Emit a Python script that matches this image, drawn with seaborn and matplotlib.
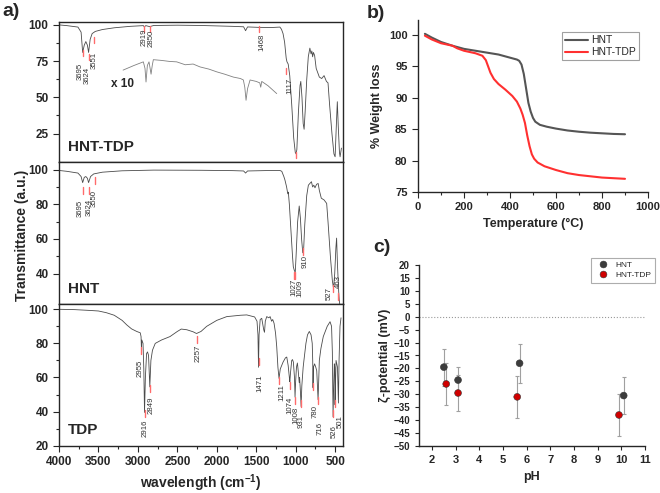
import numpy as np
import matplotlib.pyplot as plt
import pandas as pd
import seaborn as sns

# ---- FTIR: HNT-TDP (top) ----
wn_mod = [4000, 3900, 3760, 3720, 3700, 3680, 3660, 3640, 3625, 3605, 3580, 3540, 3450, 3300, 3100,
          2930, 2919, 2900, 2850, 2800, 2500, 2200, 2000, 1800, 1660, 1635, 1610, 1470, 1300, 1200,
          1180, 1160, 1140, 1120, 1110, 1095, 1075, 1050, 1025, 1005, 995, 985, 965, 945, 935, 920,
          905, 893, 880, 860, 840, 820, 805, 795, 785, 775, 760, 740, 700, 670, 640, 610, 590, 570,
          540, 515, 500, 485, 472, 460, 445, 437, 420]
tr_mod = [100, 99.5, 98.5, 95, 81, 86, 88.5, 86, 81, 90, 94, 95.5, 96.8, 98, 99,
          99.5, 98.6, 99.5, 98.8, 99.6, 99.8, 99.6, 99.3, 99, 98.7, 96, 98.6, 98.3, 98.2, 98.5,
          97, 94, 88, 77, 74.5, 73, 65, 45, 22, 12, 11, 14, 40, 58, 61, 50,
          32, 28, 40, 62, 78, 84, 80, 82, 78, 81, 79, 70, 64, 63, 65, 61, 60, 45,
          25, 11, 9, 30, 47, 30, 12, 9, 15]
# x10 expanded trace
wn_x10 = [3188, 3050, 2931, 2910, 2897, 2880, 2859, 2845, 2833, 2818, 2804, 2700, 2600, 2508, 2400,
          2300, 2212, 2100, 2000, 1900, 1790, 1700, 1663, 1645, 1629, 1610, 1578, 1500, 1455, 1443,
          1430, 1350, 1240]
tr_x10 = [68.8, 72, 74.5, 70, 60.6, 72, 74.5, 70, 66, 72, 76, 75.5, 74.8, 74.5, 72.5,
          73, 71, 69.5, 67.6, 66, 64, 63, 62, 57, 48, 56, 62, 61, 60, 57,
          61, 58, 52.6]
pk_mod = ['3695', '3624', '3551', '2919', '2850', '1468', '1117']
pk_mod_wn = [3695, 3624, 3551, 2919, 2850, 1468, 1117]
pk_mod_mark = [82.7, 80, 91.7, 99.3, 99.3, 99.3, 70.3]
pk_mod_labx = [3727, 3639, 3556, 2922, 2836, 1426, 1071]
pk_mod_laby = [73.5, 71.2, 81.6, 97.7, 96.5, 94.2, 63.2]

# ---- FTIR: HNT (middle) ----
wn_hnt = [4000, 3900, 3760, 3720, 3700, 3680, 3660, 3640, 3625, 3600, 3560, 3450, 3200, 2800, 2200,
          1800, 1660, 1635, 1610, 1300, 1200, 1176, 1150, 1136, 1115, 1100, 1093, 1080, 1060, 1040,
          1030, 1015, 1005, 995, 975, 955, 940, 925, 910, 900, 885, 860, 839, 820, 800, 785, 770,
          755, 735, 715, 700, 675, 640, 607, 590, 560, 535, 520, 505, 490, 481, 470, 455, 448, 438]
tr_hnt = [99.5, 99, 98, 96, 92.5, 95.5, 96, 95, 92.5, 96, 97.5, 98.5, 99.3, 99.7, 99.6,
          99.4, 99.2, 98, 99.2, 99.5, 99.5, 99, 96, 94, 90, 86, 87, 80, 65, 50,
          44, 41.5, 41, 50, 70, 79, 72, 60, 52, 53, 68, 85, 91, 92, 93, 90, 91,
          89.5, 91.5, 92, 88, 83.5, 82.5, 80.5, 70, 50, 36, 31.5, 40, 55, 60.5, 45, 30, 25, 21]
pk_hnt = ['3695', '3624', '3550', '1027', '1009', '910', '527', '463']
pk_hnt_wn = [3695, 3624, 3550, 1027, 1009, 910, 527, 463]
pk_hnt_mark = [89.9, 89.9, 95.7, 41, 41, 54.8, 33.5, 28.9]
pk_hnt_labx = [3734, 3623, 3548, 1020, 945, 874, 576, 458]
pk_hnt_laby = [82.5, 83.4, 88.2, 37.3, 36.4, 50.8, 32.5, 39.3]

# ---- FTIR: TDP (bottom) ----
wn_tdp = [4000, 3800, 3600, 3500, 3400, 3300, 3200, 3140, 3080, 3015, 2970, 2960, 2955, 2950, 2935,
          2925, 2916, 2905, 2890, 2878, 2865, 2849, 2835, 2815, 2780, 2700, 2593, 2500, 2450, 2380,
          2300, 2257, 2200, 2128, 2000, 1874, 1700, 1620, 1520, 1490, 1478, 1471, 1464, 1450, 1430,
          1405, 1395, 1385, 1367, 1340, 1324, 1305, 1291, 1274, 1255, 1240, 1225, 1211, 1195, 1160,
          1130, 1113, 1095, 1080, 1074, 1065, 1050, 1040, 1029, 1015, 1008, 1000, 990, 978, 968,
          955, 950, 940, 931, 922, 905, 894, 870, 850, 827, 805, 790, 784, 780, 775, 760, 745, 733,
          725, 716, 708, 700, 680, 650, 600, 564, 545, 535, 526, 518, 510, 504, 501, 496, 488, 470,
          458, 450, 438, 425]
tr_tdp = [100, 99.8, 99.3, 99, 98, 96.5, 93.5, 90.8, 88.5, 87, 86.2, 84, 77, 82, 80,
          65, 39.5, 60, 74, 75, 73, 54.5, 70, 76, 80, 82, 84, 87, 88.4, 88,
          86.8, 85.8, 87, 90, 93.5, 95.7, 96.5, 96.7, 95.5, 93, 85, 66, 85, 94, 94.7,
          88, 86.5, 93, 95.7, 95, 95.7, 93, 94, 91.8, 86, 78, 66, 59.5, 65, 69,
          71.5, 72, 67, 60, 57.5, 63, 70, 70.5, 69, 60, 48.5, 58, 66, 68.5, 64,
          57, 60, 52, 43, 55, 66, 70.5, 80, 85, 87, 85, 80, 70, 54, 66, 68, 66, 64,
          56, 47, 58, 70, 77, 84, 90, 92.7, 90, 75, 37, 55, 68, 66, 44, 55, 70, 66,
          45, 70, 90, 95]
pk_tdp = ['2955', '2916', '2849', '2257', '1471', '1211', '1074', '1008', '931', '780', '716', '526', '501']
pk_tdp_wn = [2955, 2916, 2849, 2257, 1471, 1211, 1074, 1008, 931, 780, 716, 526, 501]
pk_tdp_mark = [78, 41, 55.6, 84.3, 71.4, 60.3, 57.4, 48.6, 46.8, 56.8, 48.6, 41, 46.8]
pk_tdp_labx = [2967, 2910, 2827, 2237, 1451, 1177, 1070, 998, 925, 756, 690, 505, 436]
pk_tdp_laby = [70.3, 35.1, 48.6, 79.1, 61.5, 55.9, 48.7, 42.9, 37.9, 43.9, 34.1, 32.1, 37.9]

# ---- TGA ----
temp_hnt = [30, 60, 100, 150, 200, 250, 300, 350, 400, 430, 440, 450, 460, 470, 480, 490, 500, 510,
            530, 560, 600, 650, 700, 750, 800, 850, 900]
wl_hnt = [100.2, 99.6, 98.9, 98.3, 97.8, 97.5, 97.2, 96.9, 96.4, 96.1, 95.9, 95.3, 93.8, 91.5, 89.2,
          87.8, 86.8, 86.2, 85.7, 85.4, 85.1, 84.8, 84.6, 84.45, 84.35, 84.25, 84.2]
temp_tdp = [30, 60, 100, 150, 170, 200, 250, 280, 295, 305, 315, 330, 350, 380, 410, 430, 445, 455,
            465, 475, 485, 495, 505, 520, 550, 600, 650, 700, 800, 900]
wl_tdp = [99.9, 99.3, 98.7, 98.3, 97.9, 97.5, 97.1, 96.7, 96.0, 95.0, 94.0, 93.0, 92.2, 91.3, 90.3,
          89.4, 88.3, 87.3, 86.0, 84.0, 82.3, 81.0, 80.3, 79.7, 79.1, 78.5, 78.0, 77.7, 77.3, 77.1]

# ---- zeta potential ----
ph_hnt = [2.5, 3.1, 5.7, 10.1]
zeta_hnt = [-19.5, -24.5, -18.0, -30.5]
err_hnt = [7.2, 5.0, 7.5, 7.3]
ph_tdp = [2.6, 3.1, 5.6, 9.9]
zeta_tdp = [-26.0, -29.5, -31.0, -38.0]
err_tdp = [8.2, 7.0, 8.0, 8.0]

sns.set_style("ticks")
plt.rcParams['font.family'] = ['Liberation Sans', 'DejaVu Sans']
plt.rcParams['mathtext.fontset'] = 'custom'
plt.rcParams['mathtext.rm'] = 'Liberation Sans'
plt.rcParams['mathtext.bf'] = 'Liberation Sans:bold'
plt.rcParams['axes.linewidth'] = 1.0

W, H = 660, 493
fig = plt.figure(figsize=(6.6, 4.93), dpi=100)


def box(x0, y0, x1, y1):
    return [x0 / W, 1 - y1 / H, (x1 - x0) / W, (y1 - y0) / H]


line_col = '#4a4a4a'
red_tick = '#ff6b6b'


def spectrum(ax, wn, tr, names, pwn, pmark, labx, laby, mlen, ylim, yticks, name):
    sns.lineplot(x=wn, y=tr, ax=ax, color=line_col, lw=0.6, sort=False, estimator=None)
    for i in range(len(names)):
        ax.plot([pwn[i], pwn[i]], [pmark[i], pmark[i] - mlen], color=red_tick, lw=1.0)
        ax.text(labx[i], laby[i], names[i], rotation=90, ha='center', va='top',
                fontsize=5.6, color='#333333')
    ax.set_xlim(4000, 400)
    ax.set_ylim(*ylim)
    ax.set_yticks(yticks)
    ax.set_yticks([(a + b) / 2 for a, b in zip(yticks[:-1], yticks[1:])], minor=True)
    ax.tick_params(axis='y', which='major', direction='out', length=4, width=0.8, labelsize=8.5)
    ax.tick_params(axis='y', which='minor', direction='out', length=2, width=0.8)
    for t in ax.get_yticklabels():
        t.set_fontweight('bold')
    ax.text(0.03, 0.08, name, transform=ax.transAxes, fontsize=11, fontweight='bold')
    ax.set_xlabel('')
    ax.set_ylabel('')


ax1 = fig.add_axes(box(59, 22, 343, 162.3))
ax2 = fig.add_axes(box(59, 162.3, 343, 304))
ax3 = fig.add_axes(box(59, 304, 343, 445.7))

spectrum(ax1, wn_mod, tr_mod, pk_mod, pk_mod_wn, pk_mod_mark, pk_mod_labx, pk_mod_laby, 4.5,
         (5.2, 102), [25, 50, 75, 100], 'HNT-TDP')
sns.lineplot(x=wn_x10, y=tr_x10, ax=ax1, color='#808080', lw=0.6, sort=False, estimator=None)
ax1.text(3190, 59, 'x 10', fontsize=8.5, fontweight='bold', ha='center', va='center')
ax1.plot([1000, 1000], [12, 8], color=red_tick, lw=1.0)

spectrum(ax2, wn_hnt, tr_hnt, pk_hnt, pk_hnt_wn, pk_hnt_mark, pk_hnt_labx, pk_hnt_laby, 4,
         (22.5, 104.2), [40, 60, 80, 100], 'HNT')
spectrum(ax3, wn_tdp, tr_tdp, pk_tdp, pk_tdp_wn, pk_tdp_mark, pk_tdp_labx, pk_tdp_laby, 4,
         (20, 103.1), [20, 40, 60, 80, 100], 'TDP')

for ax in (ax1, ax2):
    ax.tick_params(axis='x', which='both', bottom=False, labelbottom=False)
ax3.set_xticks(np.arange(4000, 499, -500))
ax3.set_xticks(np.arange(3750, 499, -500), minor=True)
ax3.tick_params(axis='x', which='major', direction='out', length=4, width=0.8, labelsize=8.5)
ax3.tick_params(axis='x', which='minor', direction='out', length=2, width=0.8)
for t in ax3.get_xticklabels():
    t.set_fontweight('bold')
ax3.set_xlabel(r'wavelength (cm$^{\mathbf{-1}}$)', fontsize=10, fontweight='bold', labelpad=3)
fig.text(22 / W, 1 - 235 / H, 'Transmittance (a.u.)', rotation=90, ha='center', va='center',
         fontsize=10, fontweight='bold')
fig.text(2 / W, 1 - 12 / H, 'a)', fontsize=14, fontweight='bold', va='center')

# ---- b) TGA ----
axb = fig.add_axes(box(418, 20, 648, 192))
tga = pd.DataFrame({
    'T': temp_hnt + temp_tdp,
    'W': wl_hnt + wl_tdp,
    'sample': ['HNT'] * len(temp_hnt) + ['HNT-TDP'] * len(temp_tdp),
})
sns.lineplot(data=tga, x='T', y='W', hue='sample', palette=['#555555', '#ff3030'], lw=1.5,
             ax=axb, estimator=None, sort=False)
sns.despine(ax=axb)
axb.set_xlim(0, 1000)
axb.set_ylim(75, 102.4)
axb.set_xticks(np.arange(0, 1001, 200))
axb.set_xticks(np.arange(100, 1000, 200), minor=True)
axb.set_yticks(np.arange(75, 101, 5))
axb.tick_params(which='major', direction='out', length=4, width=0.8, labelsize=8)
axb.tick_params(which='minor', direction='out', length=2, width=0.8)
for t in axb.get_xticklabels() + axb.get_yticklabels():
    t.set_fontweight('bold')
axb.set_xlabel('Temperature (°C)', fontsize=9, fontweight='bold')
axb.set_ylabel('% Weight loss', fontsize=9, fontweight='bold')
leg = axb.legend(loc='upper right', bbox_to_anchor=(0.96, 0.93), fontsize=7.5, frameon=True,
                 fancybox=False, edgecolor='#888888', handlelength=2.2, borderpad=0.3,
                 labelspacing=0.2, handletextpad=0.3, borderaxespad=0)
leg.get_frame().set_linewidth(0.8)
fig.text(367 / W, 1 - 14 / H, 'b)', fontsize=14, fontweight='bold', va='center')

# ---- c) zeta potential ----
axc = fig.add_axes(box(419, 265, 645, 446))
axc.axhline(0, ls=':', color='#999999', lw=0.8)
axc.errorbar(ph_hnt, zeta_hnt, yerr=err_hnt, fmt='none', ecolor='#a0a0a0', elinewidth=0.8,
             capsize=1.5, capthick=0.8)
axc.errorbar(ph_tdp, zeta_tdp, yerr=err_tdp, fmt='none', ecolor='#a0a0a0', elinewidth=0.8,
             capsize=1.5, capthick=0.8)
zeta = pd.DataFrame({
    'pH': ph_hnt + ph_tdp,
    'z': zeta_hnt + zeta_tdp,
    'sample': ['HNT'] * len(ph_hnt) + ['HNT-TDP'] * len(ph_tdp),
})
sns.scatterplot(data=zeta, x='pH', y='z', hue='sample', palette=['#3c3c3c', '#d00000'], s=24,
                edgecolor='#333333', linewidth=0.4, ax=axc, zorder=3)
sns.despine(ax=axc)
axc.set_xlim(1.45, 11)
axc.set_ylim(-50, 20)
axc.set_xticks(np.arange(2, 12, 1))
axc.set_yticks(np.arange(-50, 21, 5))
axc.tick_params(which='major', direction='out', length=3, width=0.8, labelsize=7)
for t in axc.get_xticklabels() + axc.get_yticklabels():
    t.set_fontweight('bold')
axc.tick_params(axis='x', labelsize=8)
axc.set_xlabel('pH', fontsize=9, fontweight='bold')
axc.set_ylabel('ζ-potential (mV)', fontsize=9, fontweight='bold', labelpad=2)
leg = axc.legend(loc='upper right', bbox_to_anchor=(1.045, 1.04), fontsize=6, frameon=True,
                 fancybox=False, edgecolor='#999999', borderpad=0.4, labelspacing=0.3,
                 handletextpad=0.6, borderaxespad=0)
leg.get_frame().set_linewidth(0.8)
fig.text(373 / W, 1 - 247 / H, 'c)', fontsize=14, fontweight='bold', va='center')

fig.savefig('out.png', dpi=100)
